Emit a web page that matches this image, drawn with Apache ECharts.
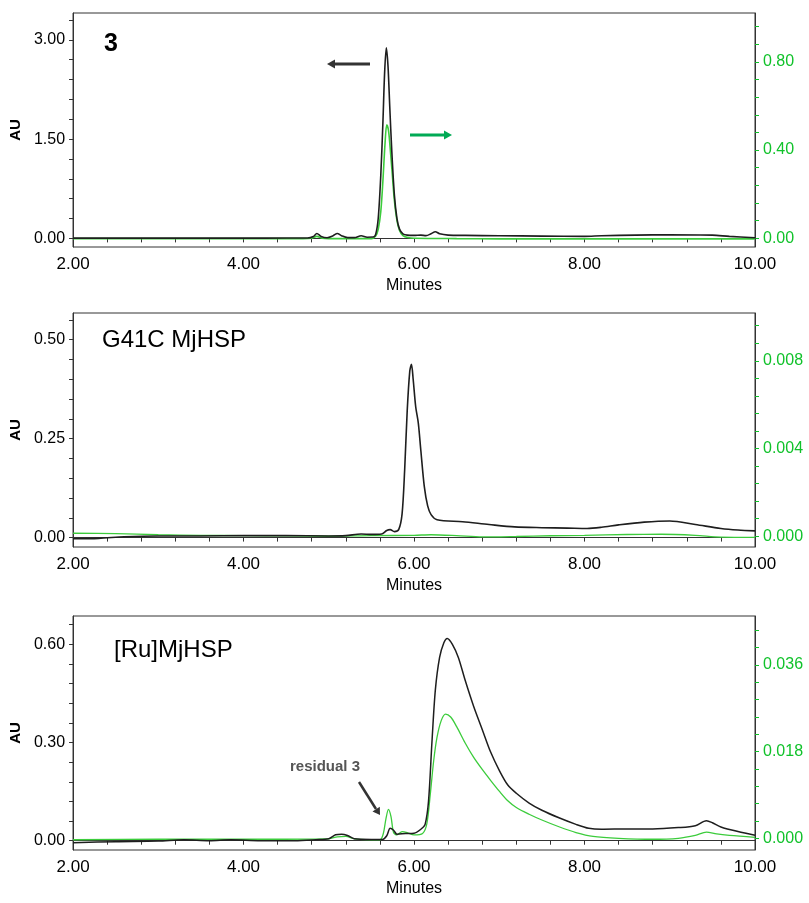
<!DOCTYPE html>
<html>
<head>
<meta charset="utf-8">
<script src="https://cdn.jsdelivr.net/npm/echarts@6/dist/echarts.min.js"></script>
<style>
  html, body { margin: 0; padding: 0; background: #fff; }
  #main { width: 809px; height: 903px; }
</style>
</head>
<body>
<div id="main"></div>
<script>
// panel 1 : compound 3
var p1BlackT = [2.0, 2.5, 3.0, 3.5, 4.0, 4.5, 4.75, 4.82, 4.86, 4.91, 4.98, 5.05, 5.1, 5.15, 5.22, 5.3, 5.38, 5.45, 5.52, 5.55, 5.58, 5.61, 5.635, 5.655, 5.675, 5.695, 5.715, 5.74, 5.77, 5.8, 5.83, 5.87, 5.92, 6.0, 6.08, 6.14, 6.2, 6.25, 6.3, 6.4, 6.6, 7.0, 7.5, 8.0, 8.2, 8.6, 9.0, 9.5, 9.7, 10.0];
var p1BlackV = [0.004, 0.004, 0.004, 0.004, 0.004, 0.005, 0.006, 0.03, 0.075, 0.03, 0.01, 0.04, 0.075, 0.04, 0.012, 0.012, 0.04, 0.018, 0.02, 0.06, 0.3, 0.95, 1.75, 2.5, 2.88, 2.6, 2.0, 1.3, 0.65, 0.3, 0.14, 0.07, 0.05, 0.045, 0.05, 0.042, 0.07, 0.1, 0.07, 0.05, 0.045, 0.04, 0.035, 0.03, 0.04, 0.05, 0.055, 0.05, 0.03, 0.01];
var p1GreenT = [2.0, 3.0, 4.0, 4.7, 4.8, 4.86, 4.92, 5.0, 5.5, 5.55, 5.58, 5.61, 5.635, 5.66, 5.68, 5.7, 5.72, 5.745, 5.77, 5.8, 5.83, 5.87, 5.93, 6.0, 6.5, 7.0, 8.0, 9.0, 10.0];
var p1GreenV = [-0.002, -0.002, -0.002, -0.002, 0.0, 0.008, 0.0, -0.002, -0.002, 0.01, 0.04, 0.12, 0.26, 0.43, 0.515, 0.49, 0.41, 0.29, 0.17, 0.08, 0.035, 0.012, 0.003, 0.0, -0.002, -0.003, -0.003, -0.003, -0.003];

// panel 2 : G41C MjHSP
var p2BlackT = [2.0, 2.3, 2.6, 3.0, 3.5, 4.0, 4.5, 5.0, 5.2, 5.38, 5.5, 5.62, 5.68, 5.72, 5.77, 5.82, 5.86, 5.89, 5.92, 5.95, 5.97, 5.99, 6.02, 6.05, 6.08, 6.12, 6.16, 6.2, 6.27, 6.57, 6.88, 7.18, 7.5, 7.8, 8.03, 8.2, 8.4, 8.7, 9.0, 9.3, 9.6, 9.8, 10.0];
var p2BlackV = [-0.003, -0.002, 0.002, 0.004, 0.004, 0.005, 0.005, 0.004, 0.005, 0.009, 0.008, 0.009, 0.018, 0.02, 0.015, 0.02, 0.06, 0.17, 0.32, 0.42, 0.438, 0.40, 0.33, 0.29, 0.22, 0.13, 0.08, 0.058, 0.045, 0.04, 0.033, 0.027, 0.025, 0.024, 0.023, 0.026, 0.032, 0.039, 0.042, 0.033, 0.023, 0.019, 0.017];
var p2GreenT = [2.0, 2.5, 3.0, 3.5, 4.0, 4.5, 5.0, 5.5, 6.0, 6.2, 6.5, 6.8, 7.2, 7.6, 8.0, 8.5, 8.9, 9.3, 9.6, 10.0];
var p2GreenV = [0.00014, 0.00012, 0.00007, 0.00004, 0.00003, 0.00002, 0.0, 0.00003, 0.00004, 0.00007, 0.00003, -0.00003, -0.00001, 0.00002, 0.00004, 0.00008, 0.00009, 0.00004, -0.00004, -0.00005];

// panel 3 : [Ru]MjHSP
var p3BlackT = [2.0, 2.5, 3.0, 3.3, 3.6, 3.85, 4.2, 4.6, 4.85, 5.0, 5.08, 5.15, 5.22, 5.3, 5.5, 5.63, 5.68, 5.72, 5.76, 5.8, 5.9, 6.0, 6.08, 6.13, 6.17, 6.21, 6.25, 6.3, 6.35, 6.39, 6.45, 6.52, 6.6, 6.7, 6.8, 6.9, 7.0, 7.1, 7.2, 7.35, 7.5, 7.7, 7.9, 8.05, 8.2, 8.5, 8.8, 9.1, 9.3, 9.43, 9.5, 9.6, 9.8, 10.0];
var p3BlackV = [-0.006, -0.003, -0.001, 0.003, 0.0, 0.003, 0.0, 0.0, 0.003, 0.006, 0.018, 0.02, 0.016, 0.006, 0.004, 0.004, 0.015, 0.038, 0.032, 0.02, 0.022, 0.023, 0.035, 0.05, 0.12, 0.3, 0.46, 0.56, 0.605, 0.618, 0.6, 0.56, 0.49, 0.41, 0.34, 0.27, 0.215, 0.17, 0.145, 0.115, 0.093, 0.07, 0.05, 0.038, 0.035, 0.036, 0.036, 0.04, 0.046, 0.061, 0.055, 0.042, 0.028, 0.017];
var p3GreenT = [2.0, 3.0, 4.0, 5.0, 5.1, 5.2, 5.3, 5.6, 5.64, 5.67, 5.7, 5.73, 5.76, 5.8, 5.86, 5.92, 6.0, 6.1, 6.15, 6.19, 6.23, 6.27, 6.32, 6.37, 6.43, 6.5, 6.6, 6.7, 6.8, 6.9, 7.0, 7.1, 7.2, 7.35, 7.5, 7.7, 7.9, 8.1, 8.4, 8.8, 9.1, 9.3, 9.43, 9.55, 9.7, 10.0];
var p3GreenV = [-0.0003, -0.0002, -0.0002, -0.0001, 0.0003, 0.0004, -0.0001, -0.0003, 0.001, 0.004, 0.006, 0.0045, 0.0012, 0.0007, 0.0014, 0.0012, 0.0007, 0.001, 0.003, 0.009, 0.016, 0.021, 0.0245, 0.0258, 0.0252, 0.0232, 0.0198, 0.0168, 0.0143, 0.012, 0.0098, 0.0078, 0.0064, 0.005, 0.0038, 0.0024, 0.0012, 0.0004, 0.0, -0.0002, 0.0, 0.0006, 0.0013, 0.0009, 0.0006, 0.0002];

// tick labels / tick marks
var xLabels = [2, 4, 6, 8, 10];
var xTicks = [2, 2.4, 2.8, 3.2, 3.6, 4, 4.4, 4.8, 5.2, 5.6, 6, 6.4, 6.8, 7.2, 7.6, 8, 8.4, 8.8, 9.2, 9.6, 10];
var p1LeftLabels = [0, 1.5, 3];
var p1LeftTicks = [0, 0.3, 0.6, 0.9, 1.2, 1.5, 1.8, 2.1, 2.4, 2.7, 3.0, 3.3];
var p1RightLabels = [0, 0.4, 0.8];
var p1RightTicks = [0, 0.08, 0.16, 0.24, 0.32, 0.4, 0.48, 0.56, 0.64, 0.72, 0.8, 0.88, 0.96];
var p2LeftLabels = [0, 0.25, 0.5];
var p2LeftTicks = [0, 0.05, 0.1, 0.15, 0.2, 0.25, 0.3, 0.35, 0.4, 0.45, 0.5, 0.55];
var p2RightLabels = [0, 0.004, 0.008];
var p2RightTicks = [0, 0.0008, 0.0016, 0.0024, 0.0032, 0.004, 0.0048, 0.0056, 0.0064, 0.0072, 0.008, 0.0088, 0.0096];
var p3LeftLabels = [0, 0.3, 0.6];
var p3LeftTicks = [0, 0.06, 0.12, 0.18, 0.24, 0.3, 0.36, 0.42, 0.48, 0.54, 0.6, 0.66];
var p3RightLabels = [0, 0.018, 0.036];
var p3RightTicks = [0, 0.0036, 0.0072, 0.0108, 0.0144, 0.018, 0.0216, 0.0252, 0.0288, 0.0324, 0.036, 0.0396, 0.0432];

var FONT = '"Liberation Sans", Arial, sans-serif';
var BLACK = '#1e1e1e';
var GREEN = '#3ccc3c';
var GREEN_TXT = '#10c22a';

function pairs(t, v) {
    var out = [];
    for (var i = 0; i < t.length; i++) out.push([t[i], v[i]]);
    return out;
}

var chart = echarts.init(document.getElementById('main'), null, { renderer: 'canvas' });

var tops = [13, 313, 616];
var grids = tops.map(function (t) {
    return { left: 73, right: 54, top: t, height: 234, show: true, borderColor: '#333', borderWidth: 1, backgroundColor: '#fff' };
});

var xAxes = [0, 1, 2].map(function (i) {
    return {
        type: 'value', gridIndex: i, min: 2, max: 10, interval: 2,
        name: 'Minutes', nameLocation: 'middle', nameGap: 31,
        nameTextStyle: { fontFamily: FONT, fontSize: 16, color: '#000' },
        axisLine: { lineStyle: { color: '#333', width: 1 } },
        axisTick: { show: true, length: 4, customValues: xTicks, lineStyle: { color: '#333' } },
        axisLabel: {
            customValues: xLabels, margin: 9, fontFamily: FONT, fontSize: 17, color: '#000',
            formatter: function (v) { return v.toFixed(2); }
        },
        splitLine: { show: false }
    };
});

function leftAxis(grid, min, max, ticks, labels) {
    return {
        type: 'value', gridIndex: grid, position: 'left', min: min, max: max,
        name: 'AU', nameLocation: 'middle', nameGap: 45, nameRotate: 90,
        nameTextStyle: { fontFamily: FONT, fontSize: 15, fontWeight: 'bold', color: '#000' },
        axisLine: { show: true, lineStyle: { color: '#333', width: 1 } },
        axisTick: { show: true, length: 4, customValues: ticks, lineStyle: { color: '#333' } },
        axisLabel: {
            customValues: labels, margin: 8, fontFamily: FONT, fontSize: 16, color: '#000',
            formatter: function (v) { return v.toFixed(2); }
        },
        splitLine: { show: false }
    };
}

function rightAxis(grid, min, max, ticks, labels, digits) {
    return {
        type: 'value', gridIndex: grid, position: 'right', min: min, max: max,
        axisLine: { show: true, lineStyle: { color: '#333', width: 1 } },
        axisTick: { show: true, length: 4, customValues: ticks, lineStyle: { color: GREEN_TXT } },
        axisLabel: {
            customValues: labels, margin: 8, fontFamily: FONT, fontSize: 16, color: GREEN_TXT,
            formatter: function (v) { return v.toFixed(digits); }
        },
        splitLine: { show: false }
    };
}

var yAxes = [
    leftAxis(0, -0.13, 3.405, p1LeftTicks, p1LeftLabels),
    rightAxis(0, -0.04, 1.022, p1RightTicks, p1RightLabels, 2),
    leftAxis(1, -0.0238, 0.5675, p2LeftTicks, p2LeftLabels),
    rightAxis(1, -0.00049, 0.01018, p2RightTicks, p2RightLabels, 3),
    leftAxis(2, -0.0284, 0.6865, p3LeftTicks, p3LeftLabels),
    rightAxis(2, -0.00243, 0.04618, p3RightTicks, p3RightLabels, 3)
];

function line(data, xi, yi, color, w, z) {
    return {
        type: 'line', xAxisIndex: xi, yAxisIndex: yi, data: data,
        showSymbol: false, smooth: 0.3, z: z,
        lineStyle: { color: color, width: w }
    };
}

var series = [
    line(pairs(p1GreenT, p1GreenV), 0, 1, GREEN, 1.6, 2),
    line(pairs(p1BlackT, p1BlackV), 0, 0, BLACK, 1.6, 3),
    line(pairs(p2GreenT, p2GreenV), 1, 3, GREEN, 1.4, 2),
    line(pairs(p2BlackT, p2BlackV), 1, 2, BLACK, 1.6, 3),
    line(pairs(p3GreenT, p3GreenV), 2, 5, GREEN, 1.3, 2),
    line(pairs(p3BlackT, p3BlackV), 2, 4, BLACK, 1.5, 3)
];

// annotations (labels and arrows)
var graphic = [
    { type: 'text', left: 104, top: 32, z: 10, style: { text: '3', font: 'bold 25px ' + FONT, fill: '#000' } },
    { type: 'text', left: 102, top: 328, z: 10, style: { text: 'G41C MjHSP', font: '24px ' + FONT, fill: '#000' } },
    { type: 'text', left: 114, top: 638, z: 10, style: { text: '[Ru]MjHSP', font: '24px ' + FONT, fill: '#000' } },
    { type: 'text', left: 290, top: 759, z: 10, style: { text: 'residual 3', font: 'bold 15px ' + FONT, fill: '#555' } },
    { type: 'line', z: 10, shape: { x1: 370, y1: 64, x2: 333, y2: 64 }, style: { stroke: '#333', lineWidth: 3 } },
    { type: 'polygon', z: 10, shape: { points: [[327, 64], [335, 59.5], [335, 68.5]] }, style: { fill: '#333' } },
    { type: 'line', z: 10, shape: { x1: 410, y1: 135, x2: 446, y2: 135 }, style: { stroke: '#00aa55', lineWidth: 3 } },
    { type: 'polygon', z: 10, shape: { points: [[452, 135], [444, 130.5], [444, 139.5]] }, style: { fill: '#00aa55' } },
    { type: 'line', z: 10, shape: { x1: 359, y1: 782, x2: 376, y2: 809 }, style: { stroke: '#333', lineWidth: 2.5 } },
    { type: 'polygon', z: 10, shape: { points: [[380, 815], [372.5, 811.5], [379.8, 806.8]] }, style: { fill: '#333' } }
];

chart.setOption({
    animation: false,
    backgroundColor: '#fff',
    grid: grids,
    xAxis: xAxes,
    yAxis: yAxes,
    series: series,
    graphic: graphic
});
</script>
</body>
</html>
